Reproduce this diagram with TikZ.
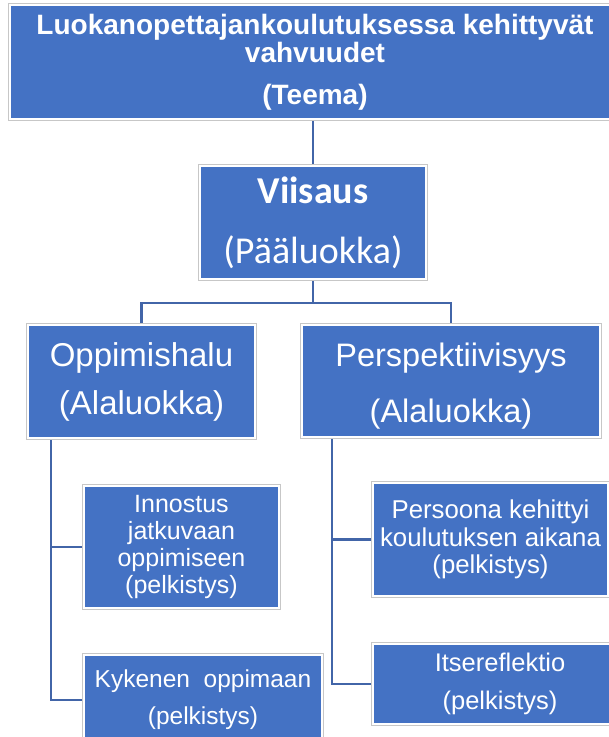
\documentclass[tikz,border=0pt]{standalone}
\usepackage{fontspec}
\setmainfont{Liberation Sans}
\newfontfamily\calfont{Carlito}
\usetikzlibrary{backgrounds}
\definecolor{boxblue}{RGB}{68,114,196}
\definecolor{linkblue}{RGB}{66,101,168}
\begin{document}
\begin{tikzpicture}[x=1pt,y=-1pt,
  box/.style={fill=boxblue, draw=white, line width=1.5pt,
    preaction={draw=black!22, line width=3.5pt},
    inner sep=0pt, align=center, text=white},
  boxtext/.style={inner sep=0pt, align=center, text=white},
  conn/.style={draw=linkblue, line width=2.6pt}]
\clip (0,0) rectangle (609,737);
\useasboundingbox (0,0) rectangle (609,737);

\node[box, minimum width=610pt, minimum height=114pt,
  font=\bfseries\fontsize{28}{28}\selectfont] (teema) at (315,62)
  {Luokanopettajankoulutuksessa kehittyvät\\vahvuudet\\[14pt](Teema)};
\node[box, minimum width=226pt, minimum height=113pt,
  font=\calfont\fontsize{38}{46}\selectfont] (viis) at (313,222.5)
  {\textbf{Viisaus}\\[14pt](Pääluokka)};
\node[box, minimum width=227pt, minimum height=113pt,
  font=\fontsize{33}{48}\selectfont] (opp) at (141.5,381.5)
  {Oppimishalu\\(Alaluokka)};
\node[box, minimum width=298pt, minimum height=112pt] (per) at (451,381) {};
\node[boxtext, font=\fontsize{32.5}{56}\selectfont, yshift=-5pt] (pertext) at (per.center)
  {Perspektiivisyys\\(Alaluokka)};
\node[box, minimum width=195pt, minimum height=122pt,
  font=\fontsize{25}{27}\selectfont] (inn) at (181.5,547)
  {Innostus\\jatkuvaan\\oppimiseen\\(pelkistys)};
\node[box, minimum width=238pt, minimum height=90pt,
  font=\fontsize{24.5}{37}\selectfont] (kyk) at (203,700)
  {Kykenen\ \ oppimaan\\(pelkistys)};
\node[box, minimum width=235pt, minimum height=113pt,
  font=\fontsize{25.8}{27.5}\selectfont] (pers) at (490.5,539.5)
  {Persoona kehittyi\\koulutuksen\ aikana\\(pelkistys)};
\node[box, minimum width=254pt, minimum height=80pt,
  font=\fontsize{25.5}{38}\selectfont] (its) at (500,684)
  {Itsereflektio\\(pelkistys)};

\coordinate (bus) at (313,303);
\coordinate (trunkL) at (51,0);
\coordinate (trunkR) at (332,0);
\begin{scope}[on background layer]
\draw[conn] (viis.north |- teema.south) -- (viis.north);
\draw[conn] (viis.south) -- (bus);
\draw[conn] (opp.north) |- (bus) -| (per.north);
\draw[conn] (opp.south -| trunkL) |- (inn.west);
\draw[conn] (inn.west -| trunkL) |- (kyk.west);
\draw[conn] (per.south -| trunkR) |- (pers.west);
\draw[conn] (pers.west -| trunkR) |- (its.west);
\end{scope}
\end{tikzpicture}
\end{document}
